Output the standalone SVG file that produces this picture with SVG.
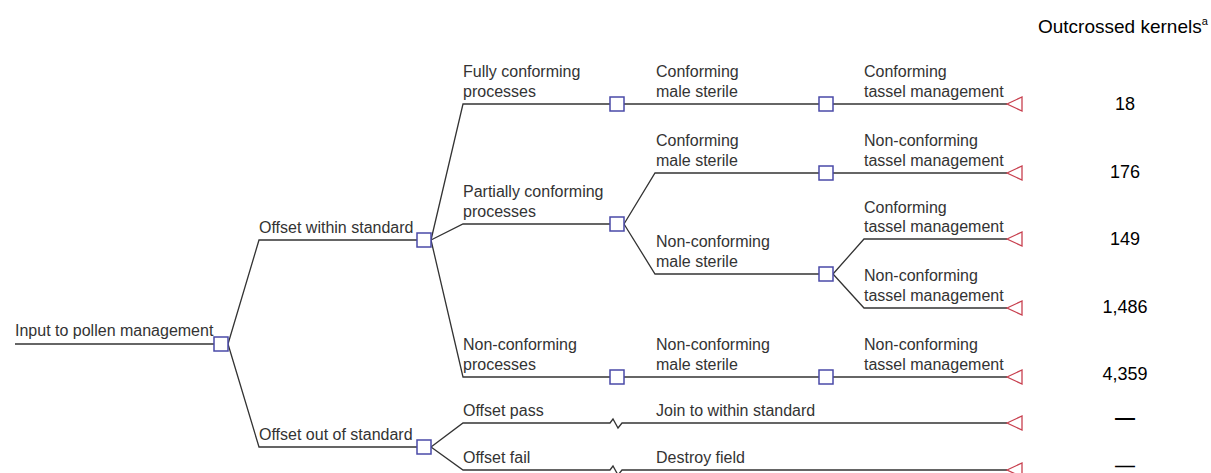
<svg xmlns="http://www.w3.org/2000/svg" width="1211" height="473" viewBox="0 0 1211 473">
<style>
.e{fill:none;stroke:#333;stroke-width:1.3}
.d{fill:#fff;stroke:#4a4aa8;stroke-width:1.5}
.t{fill:#fff;stroke:#c8404f;stroke-width:1.3}
.l{font-family:"Liberation Sans",Arial,sans-serif;font-size:16px;fill:#333}
.n{font-family:"Liberation Sans",Arial,sans-serif;font-size:18px;fill:#000;text-anchor:middle}
.m{font-family:"Liberation Sans",Arial,sans-serif;font-size:20px;font-weight:bold;fill:#000;text-anchor:middle}
</style>
<rect width="1211" height="473" fill="#fff"/>
<g id="connectors">
<path class="e" d="M15,344H214"/>
<path class="e" d="M228,344L259,240H417"/>
<path class="e" d="M228,344L259,447H417"/>
<path class="e" d="M431,240L463,104H610"/>
<path class="e" d="M431,240L463,224H610"/>
<path class="e" d="M431,240L463,377H610"/>
<path class="e" d="M624,104H819"/>
<path class="e" d="M833,104H1007"/>
<path class="e" d="M624,224L655,173H819"/>
<path class="e" d="M624,224L655,274H819"/>
<path class="e" d="M833,173H1007"/>
<path class="e" d="M833,274L864,239H1007"/>
<path class="e" d="M833,274L864,308H1007"/>
<path class="e" d="M624,377H819"/>
<path class="e" d="M833,377H1007"/>
<path class="e" d="M431,447L463,423H610L613,419L618,428L622,423H1007"/>
<path class="e" d="M431,447L463,470H610L613,466L618,475L622,470H1007"/>
</g>
<g id="root"><rect class="d" x="214" y="337" width="14" height="14"/><text class="l" x="15" y="336">Input to pollen management</text></g>
<g id="within"><rect class="d" x="417" y="233" width="14" height="14"/><text class="l" x="259" y="233">Offset within standard</text></g>
<g id="outof"><rect class="d" x="417" y="440" width="14" height="14"/><text class="l" x="259" y="440">Offset out of standard</text></g>
<g id="fully"><rect class="d" x="610" y="97" width="14" height="14"/><text class="l" x="463" y="77">Fully conforming</text><text class="l" x="463" y="97">processes</text></g>
<g id="partial"><rect class="d" x="610" y="217" width="14" height="14"/><text class="l" x="463" y="197">Partially conforming</text><text class="l" x="463" y="217">processes</text></g>
<g id="ncproc"><rect class="d" x="610" y="370" width="14" height="14"/><text class="l" x="463" y="350">Non-conforming</text><text class="l" x="463" y="370">processes</text></g>
<g id="cms1"><rect class="d" x="819" y="97" width="14" height="14"/><text class="l" x="656" y="77">Conforming</text><text class="l" x="656" y="97">male sterile</text></g>
<g id="cms2"><rect class="d" x="819" y="166" width="14" height="14"/><text class="l" x="656" y="146">Conforming</text><text class="l" x="656" y="166">male sterile</text></g>
<g id="ncms1"><rect class="d" x="819" y="267" width="14" height="14"/><text class="l" x="656" y="247">Non-conforming</text><text class="l" x="656" y="267">male sterile</text></g>
<g id="ncms2"><rect class="d" x="819" y="370" width="14" height="14"/><text class="l" x="656" y="350">Non-conforming</text><text class="l" x="656" y="370">male sterile</text></g>
<g id="end1"><path class="t" d="M1007,104L1022,97V111Z"/><text class="l" x="864" y="77">Conforming</text><text class="l" x="864" y="97">tassel management</text><text class="n" x="1125" y="110">18</text></g>
<g id="end2"><path class="t" d="M1007,173L1022,166V180Z"/><text class="l" x="864" y="146">Non-conforming</text><text class="l" x="864" y="166">tassel management</text><text class="n" x="1125" y="178">176</text></g>
<g id="end3"><path class="t" d="M1007,239L1022,232V246Z"/><text class="l" x="864" y="213">Conforming</text><text class="l" x="864" y="232">tassel management</text><text class="n" x="1125" y="245">149</text></g>
<g id="end4"><path class="t" d="M1007,308L1022,301V315Z"/><text class="l" x="864" y="281">Non-conforming</text><text class="l" x="864" y="301">tassel management</text><text class="n" x="1125" y="313">1,486</text></g>
<g id="end5"><path class="t" d="M1007,377L1022,370V384Z"/><text class="l" x="864" y="350">Non-conforming</text><text class="l" x="864" y="370">tassel management</text><text class="n" x="1125" y="380">4,359</text></g>
<g id="end6"><path class="t" d="M1007,423L1022,416V430Z"/><text class="l" x="463" y="416">Offset pass</text><text class="l" x="656" y="416">Join to within standard</text><text class="m" x="1125" y="424">—</text></g>
<g id="end7"><path class="t" d="M1007,470L1022,463V477Z"/><text class="l" x="463" y="463">Offset fail</text><text class="l" x="656" y="463">Destroy field</text><text class="m" transform="translate(1125,471) scale(1.43,1)" x="0" y="0" style="font-size:14px">—</text></g>
<g id="header"><text x="1038" y="33" style="font-family:'Liberation Sans',Arial,sans-serif;font-size:19px;fill:#000">Outcrossed kernels<tspan dy="-8" style="font-size:11px">a</tspan></text></g>
</svg>
